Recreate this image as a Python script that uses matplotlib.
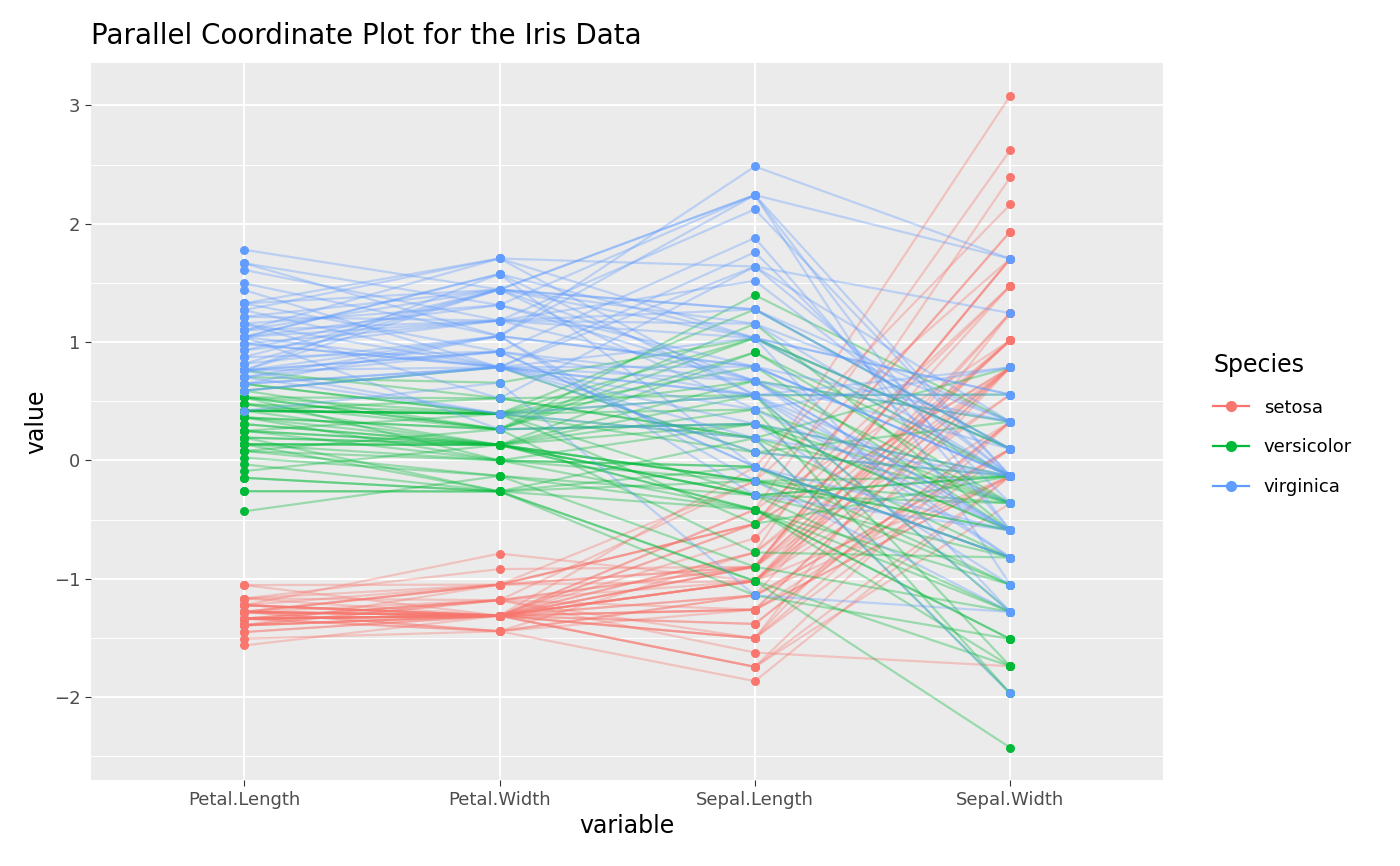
import matplotlib
matplotlib.use("Agg")
from matplotlib import pyplot as plt
from matplotlib.lines import Line2D
import numpy as np

species = ["setosa"] * 50 + ["versicolor"] * 50 + ["virginica"] * 50

sepal_length = [5.1,4.9,4.7,4.6,5.0,5.4,4.6,5.0,4.4,4.9,5.4,4.8,4.8,4.3,5.8,5.7,5.4,5.1,5.7,5.1,
                5.4,5.1,4.6,5.1,4.8,5.0,5.0,5.2,5.2,4.7,4.8,5.4,5.2,5.5,4.9,5.0,5.5,4.9,4.4,5.1,
                5.0,4.5,4.4,5.0,5.1,4.8,5.1,4.6,5.3,5.0,
                7.0,6.4,6.9,5.5,6.5,5.7,6.3,4.9,6.6,5.2,5.0,5.9,6.0,6.1,5.6,6.7,5.6,5.8,6.2,5.6,
                5.9,6.1,6.3,6.1,6.4,6.6,6.8,6.7,6.0,5.7,5.5,5.5,5.8,6.0,5.4,6.0,6.7,6.3,5.6,5.5,
                5.5,6.1,5.8,5.0,5.6,5.7,5.7,6.2,5.1,5.7,
                6.3,5.8,7.1,6.3,6.5,7.6,4.9,7.3,6.7,7.2,6.5,6.4,6.8,5.7,5.8,6.4,6.5,7.7,7.7,6.0,
                6.9,5.6,7.7,6.3,6.7,7.2,6.2,6.1,6.4,7.2,7.4,7.9,6.4,6.3,6.1,7.7,6.3,6.4,6.0,6.9,
                6.7,6.9,5.8,6.8,6.7,6.7,6.3,6.5,6.2,5.9]
sepal_width = [3.5,3.0,3.2,3.1,3.6,3.9,3.4,3.4,2.9,3.1,3.7,3.4,3.0,3.0,4.0,4.4,3.9,3.5,3.8,3.8,
               3.4,3.7,3.6,3.3,3.4,3.0,3.4,3.5,3.4,3.2,3.1,3.4,4.1,4.2,3.1,3.2,3.5,3.6,3.0,3.4,
               3.5,2.3,3.2,3.5,3.8,3.0,3.8,3.2,3.7,3.3,
               3.2,3.2,3.1,2.3,2.8,2.8,3.3,2.4,2.9,2.7,2.0,3.0,2.2,2.9,2.9,3.1,3.0,2.7,2.2,2.5,
               3.2,2.8,2.5,2.8,2.9,3.0,2.8,3.0,2.9,2.6,2.4,2.4,2.7,2.7,3.0,3.4,3.1,2.3,3.0,2.5,
               2.6,3.0,2.6,2.3,2.7,3.0,2.9,2.9,2.5,2.8,
               3.3,2.7,3.0,2.9,3.0,3.0,2.5,2.9,2.5,3.6,3.2,2.7,3.0,2.5,2.8,3.2,3.0,3.8,2.6,2.2,
               3.2,2.8,2.8,2.7,3.3,3.2,2.8,3.0,2.8,3.0,2.8,3.8,2.8,2.8,2.6,3.0,3.4,3.1,3.0,3.1,
               3.1,3.1,2.7,3.2,3.3,3.0,2.5,3.0,3.4,3.0]
petal_length = [1.4,1.4,1.3,1.5,1.4,1.7,1.4,1.5,1.4,1.5,1.5,1.6,1.4,1.1,1.2,1.5,1.3,1.4,1.7,1.5,
                1.7,1.5,1.0,1.7,1.9,1.6,1.6,1.5,1.4,1.6,1.6,1.5,1.5,1.4,1.5,1.2,1.3,1.4,1.3,1.5,
                1.3,1.3,1.3,1.6,1.9,1.4,1.6,1.4,1.5,1.4,
                4.7,4.5,4.9,4.0,4.6,4.5,4.7,3.3,4.6,3.9,3.5,4.2,4.0,4.7,3.6,4.4,4.5,4.1,4.5,3.9,
                4.8,4.0,4.9,4.7,4.3,4.4,4.8,5.0,4.5,3.5,3.8,3.7,3.9,5.1,4.5,4.5,4.7,4.4,4.1,4.0,
                4.4,4.6,4.0,3.3,4.2,4.2,4.2,4.3,3.0,4.1,
                6.0,5.1,5.9,5.6,5.8,6.6,4.5,6.3,5.8,6.1,5.1,5.3,5.5,5.0,5.1,5.3,5.5,6.7,6.9,5.0,
                5.7,4.9,6.7,4.9,5.7,6.0,4.8,4.9,5.6,5.8,6.1,6.4,5.6,5.1,5.6,6.1,5.6,5.5,4.8,5.4,
                5.6,5.1,5.1,5.9,5.7,5.2,5.0,5.2,5.4,5.1]
petal_width = [0.2,0.2,0.2,0.2,0.2,0.4,0.3,0.2,0.2,0.1,0.2,0.2,0.1,0.1,0.2,0.4,0.4,0.3,0.3,0.3,
               0.2,0.4,0.2,0.5,0.2,0.2,0.4,0.2,0.2,0.2,0.2,0.4,0.1,0.2,0.2,0.2,0.2,0.1,0.2,0.2,
               0.3,0.3,0.2,0.6,0.4,0.3,0.2,0.2,0.2,0.2,
               1.4,1.5,1.5,1.3,1.5,1.3,1.6,1.0,1.3,1.4,1.0,1.5,1.0,1.4,1.3,1.4,1.5,1.0,1.5,1.1,
               1.8,1.3,1.5,1.2,1.3,1.4,1.4,1.7,1.5,1.0,1.1,1.0,1.2,1.6,1.5,1.6,1.5,1.3,1.3,1.3,
               1.2,1.4,1.2,1.0,1.3,1.2,1.3,1.3,1.1,1.3,
               2.5,1.9,2.1,1.8,2.2,2.1,1.7,1.8,1.8,2.5,2.0,1.9,2.1,2.0,2.4,2.3,1.8,2.2,2.3,1.5,
               2.3,2.0,2.0,1.8,2.1,1.8,1.8,1.8,2.1,1.6,1.9,2.0,2.2,1.5,1.4,2.3,2.4,1.8,1.8,2.1,
               2.4,2.3,1.9,2.3,2.5,2.3,1.9,2.0,2.3,1.8]

variables = ["Petal.Length", "Petal.Width", "Sepal.Length", "Sepal.Width"]
species_names = ["setosa", "versicolor", "virginica"]
colors = {"setosa": "#F8766D", "versicolor": "#00BA38", "virginica": "#619CFF"}

data = np.array([petal_length, petal_width, sepal_length, sepal_width]).T
z = (data - data.mean(axis=0)) / data.std(axis=0, ddof=1)
sp = np.array(species)
x = np.arange(1, len(variables) + 1)

fig = plt.figure(figsize=(14, 8.66), dpi=100)
ax = fig.add_axes([0.065, 0.099, 0.766, 0.828])
ax.set_facecolor("#EBEBEB")
for s in ax.spines.values():
    s.set_visible(False)

for name in species_names:
    for row in z[sp == name]:
        ax.plot(x, row, color=colors[name], alpha=0.35, lw=1.6, zorder=2)
for name in species_names:
    rows = z[sp == name]
    for j in range(len(variables)):
        ax.scatter(np.full(len(rows), x[j]), rows[:, j], color=colors[name], s=42,
                   zorder=3, linewidths=0)

ax.set_xlim(0.4, 4.6)
lo, hi = z.min(), z.max()
pad = (hi - lo) * 0.05
ax.set_ylim(lo - pad, hi + pad)
ax.set_xticks(x)
ax.set_xticklabels(variables)
ax.set_yticks([-2, -1, 0, 1, 2, 3])
ax.set_yticks([-2.5, -1.5, -0.5, 0.5, 1.5, 2.5], minor=True)
ax.grid(which="major", color="white", lw=1.4, zorder=0)
ax.grid(which="minor", axis="y", color="white", lw=0.7, zorder=0)
ax.set_axisbelow(True)
ax.tick_params(which="major", length=4, color="#333333", labelsize=13, labelcolor="#4D4D4D")
ax.tick_params(which="minor", length=0)
ax.set_xlabel("variable", fontsize=17)
ax.set_ylabel("value", fontsize=17)
ax.set_title("Parallel Coordinate Plot for the Iris Data", fontsize=20, loc="left", pad=14)

handles = [Line2D([0], [0], color=colors[n], marker="o", markersize=7, lw=1.6, alpha=1)
           for n in species_names]
for h, n in zip(handles, species_names):
    h.set_color(colors[n])
leg = fig.legend(handles, species_names, loc="center left", bbox_to_anchor=(0.855, 0.51),
                 frameon=False, title="Species", fontsize=13, title_fontsize=17,
                 handlelength=2, labelspacing=1.2, alignment="left")
plt.savefig("out.png", dpi=100)
